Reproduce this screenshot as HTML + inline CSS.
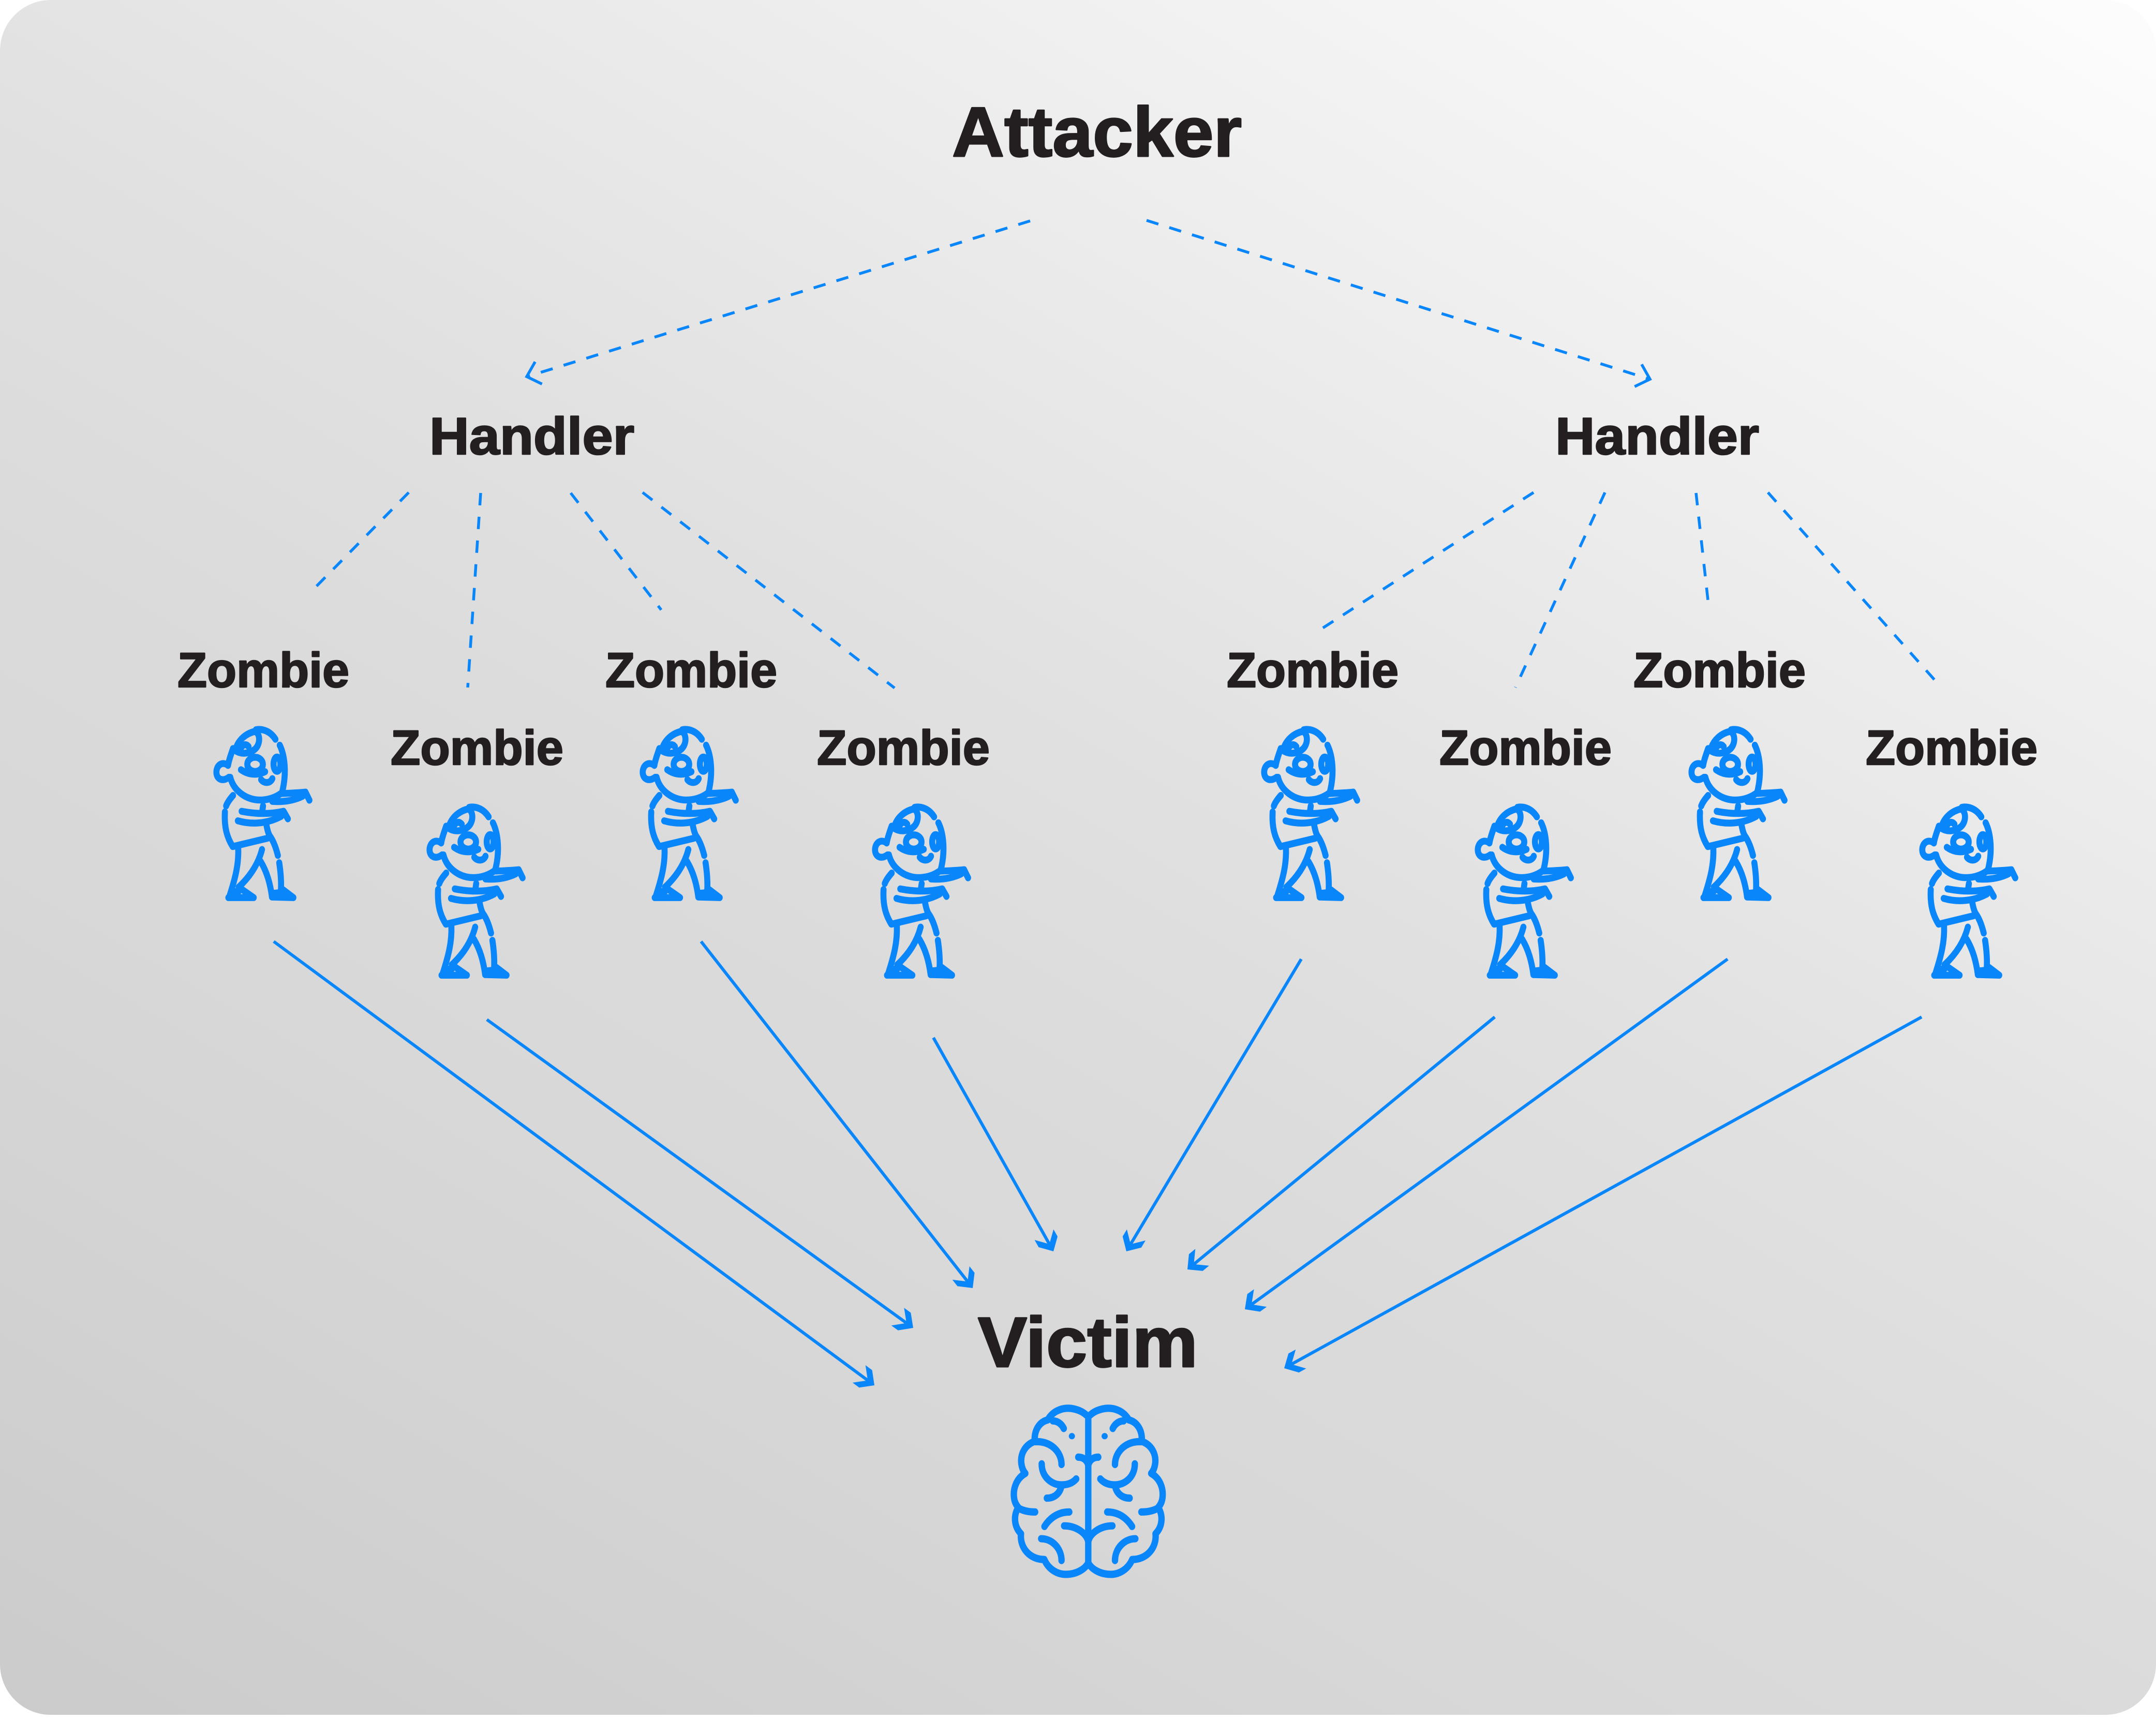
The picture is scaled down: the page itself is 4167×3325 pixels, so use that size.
<!DOCTYPE html>
<html>
<head>
<meta charset="utf-8">
<style>
  html,body{margin:0;padding:0;background:#ffffff;}
  svg{display:block;}
  .lbl{font-family:"Liberation Sans","DejaVu Sans",sans-serif;font-weight:bold;fill:#231f20;stroke:#231f20;stroke-linejoin:round;}
</style>
</head>
<body>
<svg xmlns="http://www.w3.org/2000/svg" xmlns:xlink="http://www.w3.org/1999/xlink" width="4167" height="3325" viewBox="0 0 4167 3325">
  <defs>
    <linearGradient id="bg" gradientUnits="userSpaceOnUse" x1="0" y1="3315" x2="2440" y2="-977">
      <stop offset="0" stop-color="#cbcbcb"/>
      <stop offset="0.30" stop-color="#d8d8d8"/>
      <stop offset="0.42" stop-color="#dbdbdb"/>
      <stop offset="0.55" stop-color="#e1e1e1"/>
      <stop offset="0.75" stop-color="#eeeeee"/>
      <stop offset="1" stop-color="#fdfdfd"/>
    </linearGradient>

    <g id="zombie" transform="scale(0.33333,0.38270)" fill="none" stroke="#0a86fb" stroke-width="35" stroke-linecap="round" stroke-linejoin="round">
      <path d="M345,550 C390,543 432,562 458,598"/>
      <path d="M483,628 C512,680 525,770 496,868"/>
      <path d="M196,790 C216,860 290,905 370,905 C420,905 460,892 496,868"/>
      <path d="M500,872 C560,870 600,868 632,865 L655,906"/>
      <path d="M440,912 C510,916 570,905 615,886"/>
      <path d="M212,645 C198,680 188,705 183,730"/>
      <path d="M183,730 C145,705 112,735 116,770 C120,803 155,812 188,790"/>
      <path d="M225,655 C240,600 290,568 340,558 C372,572 370,622 342,646 C310,672 258,676 225,655 Z"/>
      <path d="M255,648 C265,626 285,618 302,635"/>
      <ellipse cx="340" cy="725" rx="45" ry="36"/>
      <path d="M258,752 C300,778 350,782 398,762"/>
      <ellipse cx="467" cy="724" rx="20" ry="36"/>
      <path d="M375,802 C392,822 428,822 440,797"/>
      <path d="M212,882 C192,902 178,920 172,935"/>
      <path d="M386,935 L381,966"/>
      <path d="M165,965 C160,1045 178,1095 210,1140"/>
      <path d="M262,962 C345,976 425,978 505,962 L530,1000"/>
      <path d="M240,1010 C320,1030 410,1025 490,988"/>
      <path d="M405,1028 C412,1060 418,1080 432,1095 C450,1120 462,1150 472,1185"/>
      <path d="M212,1140 L412,1098"/>
      <path d="M242,1148 C246,1230 225,1300 190,1395"/>
      <path d="M380,1155 C355,1240 300,1300 245,1345"/>
      <path d="M372,1215 C410,1270 428,1330 438,1395"/>
      <path d="M480,1222 C490,1280 492,1320 490,1358"/>
      <path d="M245,1345 L332,1398 L185,1398"/>
      <path d="M205,1370 L245,1366"/>
      <path d="M438,1395 L562,1398 L502,1358"/>
      <path d="M452,1376 L492,1372"/>
    </g>

    <g id="brainhalf">
      <path d="M610,625 C570,585 495,570 440,590 C410,600 388,620 375,640 C325,650 295,695 300,748 C245,765 215,810 222,860 C225,880 232,897 245,910 C195,935 172,985 180,1035 C183,1055 192,1070 205,1083 C178,1115 175,1175 220,1215 C212,1285 270,1345 355,1345 C380,1395 430,1420 480,1420 C540,1420 590,1395 610,1362"/>
      <path d="M405,645 C432,645 455,660 468,683"/>
      <ellipse cx="515" cy="722" rx="18" ry="16" fill="#0a86fb" stroke="none"/>
      <path d="M552,828 C580,828 602,842 610,868"/>
      <path d="M303,750 C390,745 455,800 455,865"/>
      <path d="M340,862 C340,930 400,968 455,968 C490,968 520,958 540,938"/>
      <path d="M455,972 C445,1015 410,1035 370,1035"/>
      <path d="M207,1086 C235,1100 265,1105 302,1105"/>
      <path d="M356,1178 C392,1130 440,1105 500,1105"/>
      <path d="M470,1175 C540,1175 600,1212 610,1255"/>
      <path d="M337,1240 C402,1240 455,1290 455,1350"/>
    </g>
  </defs>

  <rect x="0" y="0" width="4167" height="3315" rx="98" ry="98" fill="url(#bg)"/>

  <text class="lbl" x="1840" y="302" font-size="136" stroke-width="3" textLength="560" lengthAdjust="spacingAndGlyphs">Attacker</text>
  <text class="lbl" x="830" y="878" font-size="101" stroke-width="2.5" textLength="396" lengthAdjust="spacingAndGlyphs">Handler</text>
  <text class="lbl" x="3006" y="878" font-size="101" stroke-width="2.5" textLength="394" lengthAdjust="spacingAndGlyphs">Handler</text>

  <text class="lbl" x="343" y="1328" font-size="95" stroke-width="2.5" textLength="332" lengthAdjust="spacingAndGlyphs">Zombie</text>
  <text class="lbl" x="1170" y="1328" font-size="95" stroke-width="2.5" textLength="332" lengthAdjust="spacingAndGlyphs">Zombie</text>
  <text class="lbl" x="2371" y="1328" font-size="95" stroke-width="2.5" textLength="332" lengthAdjust="spacingAndGlyphs">Zombie</text>
  <text class="lbl" x="3157" y="1328" font-size="95" stroke-width="2.5" textLength="333" lengthAdjust="spacingAndGlyphs">Zombie</text>

  <text class="lbl" x="755" y="1478" font-size="95" stroke-width="2.5" textLength="334" lengthAdjust="spacingAndGlyphs">Zombie</text>
  <text class="lbl" x="1579" y="1478" font-size="95" stroke-width="2.5" textLength="334" lengthAdjust="spacingAndGlyphs">Zombie</text>
  <text class="lbl" x="2782" y="1478" font-size="95" stroke-width="2.5" textLength="333" lengthAdjust="spacingAndGlyphs">Zombie</text>
  <text class="lbl" x="3606" y="1478" font-size="95" stroke-width="2.5" textLength="332" lengthAdjust="spacingAndGlyphs">Zombie</text>

  <text class="lbl" x="1890" y="2642" font-size="137" stroke-width="3" textLength="425" lengthAdjust="spacingAndGlyphs">Victim</text>

  <g fill="none" stroke="#0a86fb" stroke-width="5.5" stroke-dasharray="24 22">
    <line x1="1991" y1="427" x2="1022" y2="727"/>
    <line x1="2216" y1="426" x2="3185" y2="732"/>
    <line x1="790" y1="952" x2="603" y2="1142"/>
    <line x1="929" y1="953" x2="904" y2="1329"/>
    <line x1="1103" y1="953" x2="1278" y2="1179"/>
    <line x1="1242" y1="952" x2="1729" y2="1330"/>
    <line x1="2964" y1="952" x2="2555" y2="1215"/>
    <line x1="3102" y1="952" x2="2929" y2="1329"/>
    <line x1="3278" y1="953" x2="3303" y2="1178"/>
    <line x1="3417" y1="952" x2="3753" y2="1330"/>
  </g>
  <g fill="none" stroke="#0a86fb" stroke-width="5.5" stroke-linejoin="miter">
    <path d="M-24,-22.5 L0,0 L-24,22.5" transform="translate(1018,728) rotate(162.81)"/>
    <path d="M-24,-22.5 L0,0 L-24,22.5" transform="translate(3189,733) rotate(17.51)"/>
  </g>

  <use xlink:href="#zombie" href="#zombie" transform="translate(379.7,1200.2)"/>
  <use xlink:href="#zombie" href="#zombie" transform="translate(791.7,1350.2)"/>
  <use xlink:href="#zombie" href="#zombie" transform="translate(1203.7,1200.2)"/>
  <use xlink:href="#zombie" href="#zombie" transform="translate(1652.7,1350.2)"/>
  <use xlink:href="#zombie" href="#zombie" transform="translate(2404.7,1200.2)"/>
  <use xlink:href="#zombie" href="#zombie" transform="translate(2817.7,1350.2)"/>
  <use xlink:href="#zombie" href="#zombie" transform="translate(3230.7,1200.2)"/>
  <use xlink:href="#zombie" href="#zombie" transform="translate(3676.7,1350.2)"/>

  <g stroke="#0a86fb" stroke-width="6" fill="none">
    <line x1="529" y1="1820" x2="1683.6" y2="2673.2"/>
    <line x1="941" y1="1971" x2="1758.5" y2="2562.3"/>
    <line x1="1355" y1="1820" x2="1875.1" y2="2483.7"/>
    <line x1="1804" y1="2006" x2="2032.1" y2="2412"/>
    <line x1="2515" y1="1854" x2="2181.1" y2="2412.1"/>
    <line x1="2889" y1="1966" x2="2301.2" y2="2448.9"/>
    <line x1="3339" y1="1854" x2="2412.5" y2="2526.3"/>
    <line x1="3714" y1="1966" x2="2489" y2="2641.1"/>
  </g>
  <g fill="#0a86fb">
    <polygon points="0,0 -21,-21 -37,-21 -16,0 -37,21 -21,21" transform="translate(1690,2678) rotate(36.47)"/>
    <polygon points="0,0 -21,-21 -37,-21 -16,0 -37,21 -21,21" transform="translate(1765,2567) rotate(35.88)"/>
    <polygon points="0,0 -21,-21 -37,-21 -16,0 -37,21 -21,21" transform="translate(1880,2490) rotate(51.92)"/>
    <polygon points="0,0 -21,-21 -37,-21 -16,0 -37,21 -21,21" transform="translate(2036,2419) rotate(60.67)"/>
    <polygon points="0,0 -21,-21 -37,-21 -16,0 -37,21 -21,21" transform="translate(2177,2419) rotate(120.89)"/>
    <polygon points="0,0 -21,-21 -37,-21 -16,0 -37,21 -21,21" transform="translate(2295,2454) rotate(140.59)"/>
    <polygon points="0,0 -21,-21 -37,-21 -16,0 -37,21 -21,21" transform="translate(2406,2531) rotate(144.04)"/>
    <polygon points="0,0 -21,-21 -37,-21 -16,0 -37,21 -21,21" transform="translate(2482,2645) rotate(151.14)"/>
  </g>

  <g transform="translate(1900,2500) scale(0.33333,0.38270)" fill="none" stroke="#0a86fb" stroke-width="37" stroke-linecap="round" stroke-linejoin="round">
    <use xlink:href="#brainhalf" href="#brainhalf"/>
    <use xlink:href="#brainhalf" href="#brainhalf" transform="translate(1220,0) scale(-1,1)"/>
    <path d="M610,640 L610,1362"/>
  </g>
</svg>
</body>
</html>
